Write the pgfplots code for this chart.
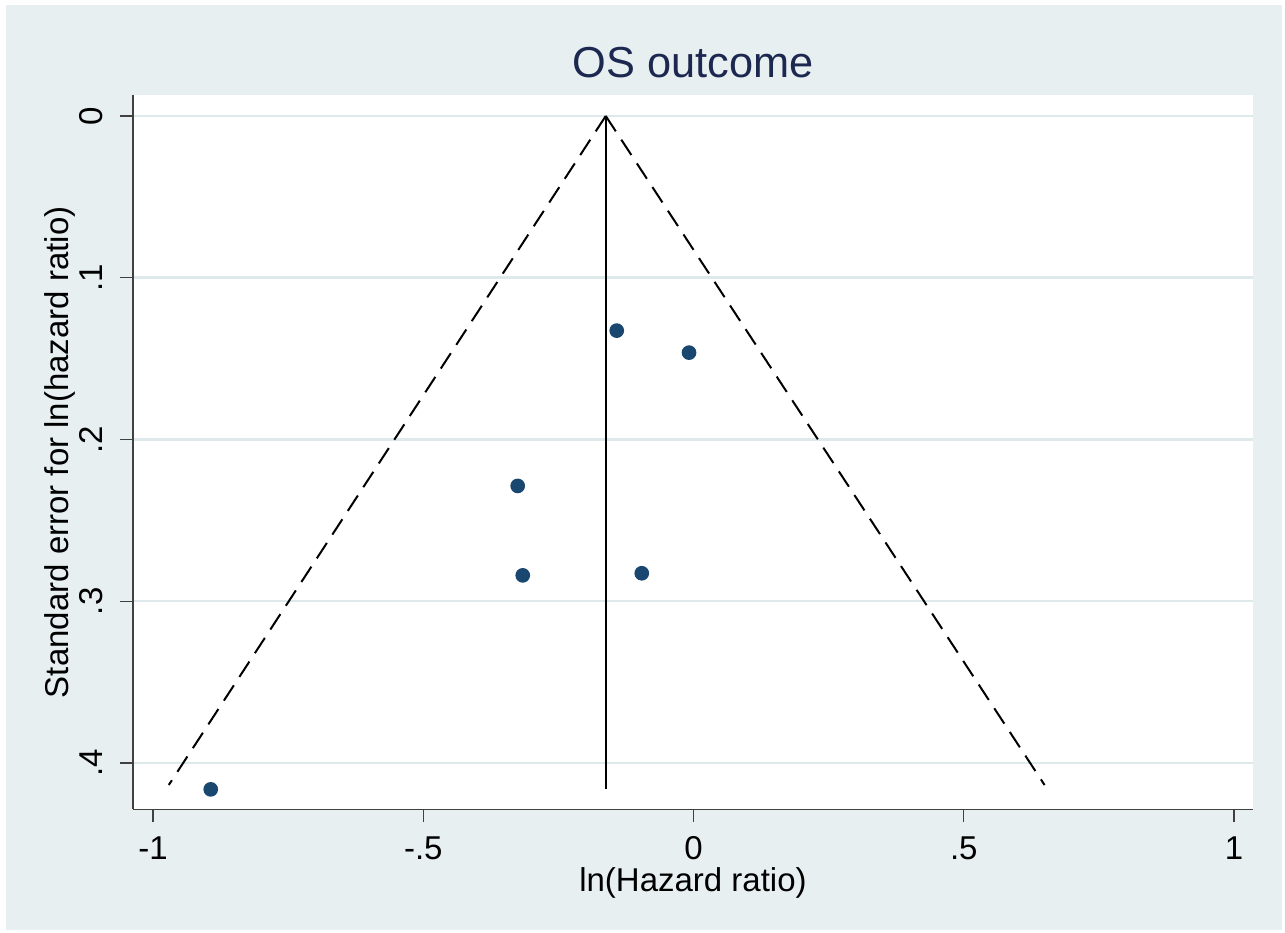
\documentclass[border=0pt]{standalone}
\usepackage{fontspec}
\setmainfont{Liberation Sans}
\usepackage{pgfplots}
\pgfplotsset{compat=1.18}
\definecolor{bgc}{RGB}{231,239,240}
\definecolor{gridc}{RGB}{222,233,236}
\definecolor{navyc}{RGB}{26,71,111}
\definecolor{titlec}{RGB}{28,40,80}
\begin{document}
\begin{tikzpicture}
\fill[white] (0,0) rectangle (385.5pt,279.9pt);
\fill[bgc] (1.8pt,0.9pt) rectangle (384.6pt,278.4pt);
\begin{axis}[
  at={(39.9pt,37.05pt)}, anchor=south west,
  scale only axis, width=336pt, height=214.35pt,
  xmin=-1.037, xmax=1.035, ymin=-0.01298, ymax=0.42875,
  y dir=reverse,
  axis background/.style={fill=white},
  axis x line*=bottom, axis y line*=left,
  axis line style={color=black!75, line width=0.4pt},
  xtick={-1,-0.5,0,0.5,1}, xticklabels={-1,-.5,0,.5,1},
  ytick={0,0.1,0.2,0.3,0.4}, yticklabels={0,.1,.2,.3,.4},
  tick align=outside, major tick length=3.8pt,
  tick style={black!75, line width=0.4pt},
  ymajorgrids, grid style={gridc, line width=0.75pt},
  tick label style={font=\fontsize{9.9}{12}\selectfont},
  xticklabel style={anchor=base, yshift=-11.2pt},
  yticklabel style={xshift=-5.2pt, rotate=90, anchor=base},
  xlabel={ln(Hazard ratio)},
  ylabel={Standard error for ln(hazard ratio)},
  label style={font=\fontsize{9.9}{12}\selectfont},
  xlabel style={at={(axis description cs:0.5,-0.1150)}, anchor=base},
  ylabel style={at={(axis description cs:-0.058,0.5)}, anchor=base},
  title={OS outcome},
  every axis title shift=0pt,
  title style={at={(axis description cs:0.5,1.0238)}, anchor=base, font=\fontsize{13}{15}\selectfont, text=titlec},
]
\addplot[black, line width=0.7pt] coordinates {(-0.1624,0) (-0.1624,0.4163)};
\addplot[black, line width=0.6pt, dash pattern=on 5.5pt off 3pt] coordinates {(-0.1624,0) (-0.9708,0.4136)};
\addplot[black, line width=0.6pt, dash pattern=on 5.5pt off 3pt] coordinates {(-0.1624,0) (0.6494,0.4136)};
\addplot[only marks, mark=*, mark size=2pt, color=navyc, mark options={fill=navyc, draw=navyc}] coordinates {
(-0.1421,0.1327)
(-0.0083,0.1463)
(-0.3253,0.2287)
(-0.3160,0.2840)
(-0.0958,0.2827)
(-0.8932,0.4163)
};
\end{axis}
\end{tikzpicture}
\end{document}
